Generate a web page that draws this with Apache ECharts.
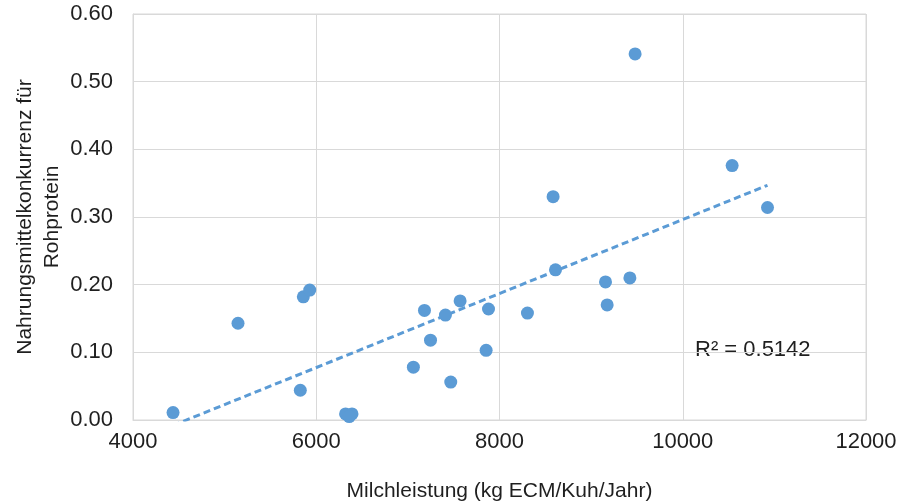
<!DOCTYPE html>
<html>
<head>
<meta charset="utf-8">
<script src="https://cdn.jsdelivr.net/npm/echarts@6/dist/echarts.min.js"></script>
<style>
    html, body { margin: 0; padding: 0; background: #fff; }
    #chart { width: 902px; height: 504px; }
</style>
</head>
<body>
<div id="chart"></div>
<script>
// Milchleistung (kg ECM/Kuh/Jahr)
var milk = [4437, 5146, 5859, 5929, 5826, 6320, 6390, 6360, 7060, 7181, 7247, 7410, 7468,
            7570, 7880, 7854, 8305, 8611, 9157, 9175, 9423, 8585, 9480, 10539, 10925];
// Nahrungsmittelkonkurrenz für Rohprotein
var konkurrenz = [0.011, 0.143, 0.182, 0.192, 0.044, 0.009, 0.009, 0.005, 0.078, 0.162, 0.118, 0.155, 0.056,
                  0.176, 0.164, 0.103, 0.158, 0.222, 0.204, 0.170, 0.210, 0.330, 0.541, 0.376, 0.314];
var rSquaredText = 'R² = 0.5142';

var textColor = '#1f1f1f';
var font = 'Liberation Sans, Arial, sans-serif';

// Punkte
var points = [];
for (var i = 0; i < milk.length; i++) {
    points.push([milk[i], konkurrenz[i]]);
}

// lineare Trendlinie (kleinste Quadrate)
function linearFit(xs, ys) {
    var n = xs.length, mx = 0, my = 0, sxy = 0, sxx = 0;
    for (var i = 0; i < n; i++) { mx += xs[i]; my += ys[i]; }
    mx /= n; my /= n;
    for (var j = 0; j < n; j++) {
        sxy += (xs[j] - mx) * (ys[j] - my);
        sxx += (xs[j] - mx) * (xs[j] - mx);
    }
    var b = sxy / sxx;
    return { slope: b, intercept: my - b * mx };
}
var fit = linearFit(milk, konkurrenz);
var xMin = Math.min.apply(null, milk), xMax = Math.max.apply(null, milk);
var trend = [[xMin, fit.intercept + fit.slope * xMin], [xMax, fit.intercept + fit.slope * xMax]];

var myChart = echarts.init(document.getElementById('chart'));
myChart.setOption({
    backgroundColor: '#fff',
    animation: false,
    textStyle: { fontFamily: font },
    grid: {
        show: true,
        left: 133, right: 36, top: 14, bottom: 84,
        outerBoundsMode: 'none',
        containLabel: false,
        borderColor: '#D9D9D9',
        borderWidth: 1
    },
    xAxis: {
        type: 'value',
        min: 4000, max: 12000, interval: 2000,
        name: 'Milchleistung (kg ECM/Kuh/Jahr)',
        nameLocation: 'middle',
        nameGap: 61,
        nameMoveOverlap: false,
        nameTextStyle: { color: textColor, fontSize: 21, fontFamily: font },
        axisLine: { show: true, lineStyle: { color: '#D9D9D9', width: 1 } },
        axisTick: { show: false },
        axisLabel: {
            color: textColor, fontSize: 22, margin: 11, fontFamily: font,
            formatter: function(v) { return String(v); }
        },
        splitLine: { show: true, lineStyle: { color: '#D9D9D9', width: 1 } }
    },
    yAxis: {
        type: 'value',
        min: 0, max: 0.6, interval: 0.1,
        name: 'Nahrungsmittelkonkurrenz für\nRohprotein',
        nameLocation: 'middle',
        nameGap: 67,
        nameMoveOverlap: false,
        nameRotate: 90,
        nameTextStyle: { color: textColor, fontSize: 21, lineHeight: 27, fontFamily: font },
        axisLine: { show: true, lineStyle: { color: '#D9D9D9', width: 1 } },
        axisTick: { show: false },
        axisLabel: {
            color: textColor, fontSize: 22, margin: 20, fontFamily: font,
            formatter: function(v) { return v.toFixed(2); }
        },
        splitLine: { show: true, lineStyle: { color: '#D9D9D9', width: 1 } }
    },
    graphic: [{
        type: 'text',
        left: 695, top: 339,
        style: { text: rSquaredText, fill: textColor, font: '22px ' + font }
    }],
    series: [
        {
            name: 'Trend',
            type: 'line',
            data: trend,
            symbol: 'none',
            clip: true,
            z: 2,
            lineStyle: { color: '#5B9BD5', width: 3, type: [7, 4] }
        }, {
            name: 'Betriebe',
            type: 'scatter',
            data: points,
            symbolSize: 13,
            z: 3,
            itemStyle: { color: '#5B9BD5', opacity: 1 }
        }
    ]
});
</script>
</body>
</html>
